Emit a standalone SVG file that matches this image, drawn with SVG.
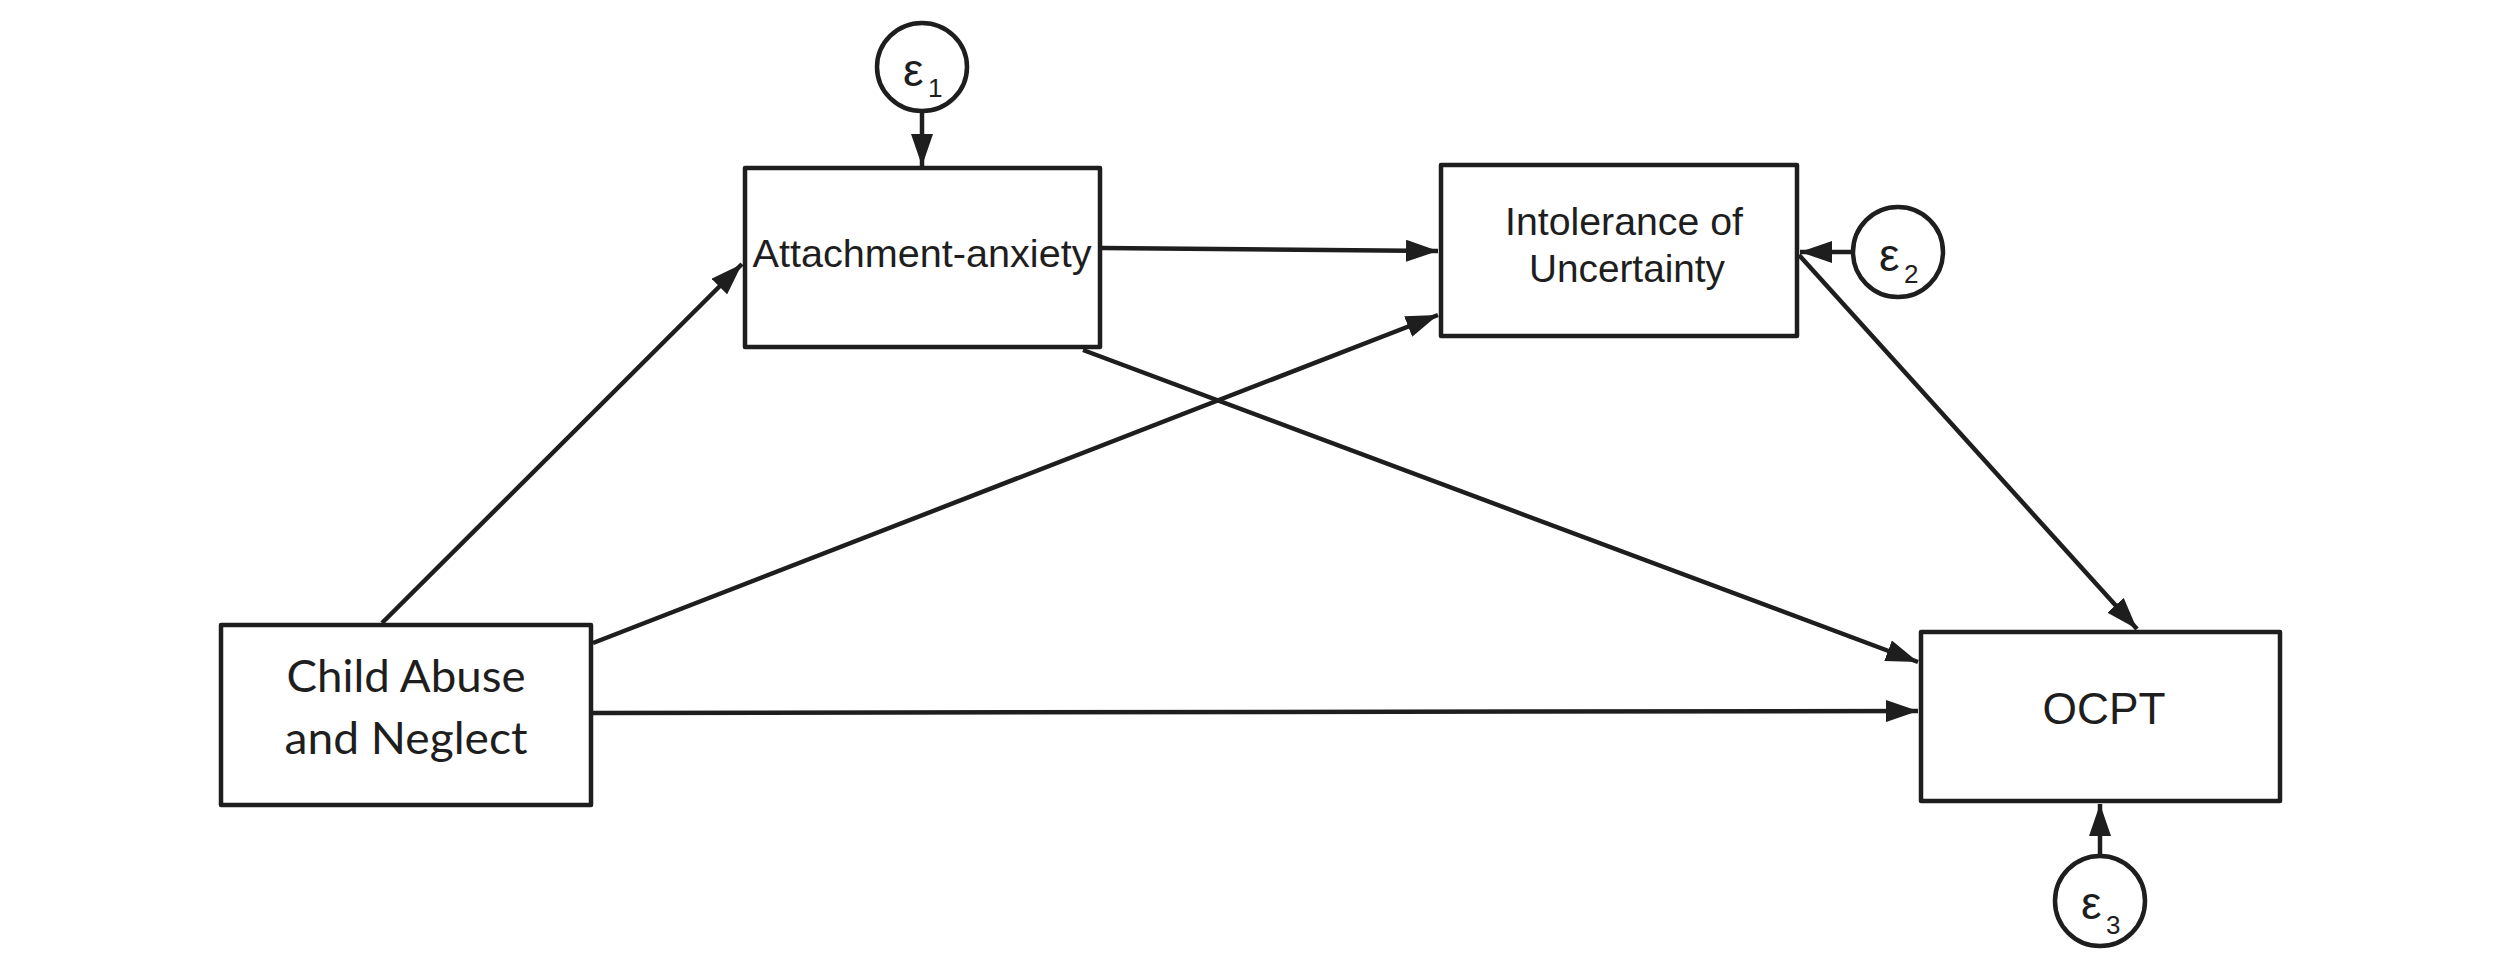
<svg xmlns="http://www.w3.org/2000/svg" width="2500" height="973" viewBox="0 0 2500 973">
<style>
.box{fill:#fff;stroke:#1e1e1e;stroke-width:4.5;stroke-linejoin:round}
.err{fill:#fff;stroke:#1e1e1e;stroke-width:4.5}
.lbl{font-family:"Liberation Sans",Arial,sans-serif;fill:#1e1e1e;text-anchor:middle}
.cal{font-family:Lato,"Open Sans",sans-serif;fill:#1e1e1e;text-anchor:middle}
.eps{font-family:"Liberation Sans",Arial,sans-serif;fill:#1e1e1e}
.edge{fill:none;stroke:#1e1e1e;stroke-width:4.5;marker-end:url(#arr)}
</style>
<defs>
<marker id="arr" markerUnits="userSpaceOnUse" markerWidth="32" markerHeight="22" viewBox="0 0 32 22" refX="32" refY="11" orient="auto">
<path d="M0,0 L32,11 L0,22 Z" fill="#1e1e1e"/>
</marker>
</defs>
<rect width="2500" height="973" fill="#fff"/>
<g id="connectors">
<line class="edge" x1="382" y1="623" x2="742" y2="264"/>
<line class="edge" x1="593" y1="643" x2="1438" y2="315"/>
<line class="edge" x1="593" y1="713" x2="1918" y2="711"/>
<line class="edge" x1="1102" y1="248" x2="1438" y2="251"/>
<line class="edge" x1="1083" y1="350" x2="1918" y2="662"/>
<line class="edge" x1="1799" y1="255" x2="2137" y2="629"/>
<line class="edge" x1="922" y1="112" x2="922" y2="166"/>
<line class="edge" x1="1852" y1="252" x2="1800" y2="252"/>
<line class="edge" x1="2100" y1="855" x2="2100" y2="804"/>
</g>
<g id="attachment">
<rect class="box" x="745" y="168" width="355" height="179"/>
<text class="lbl" x="922" y="267" font-size="39" textLength="339" lengthAdjust="spacingAndGlyphs">Attachment-anxiety</text>
</g>
<g id="intolerance">
<rect class="box" x="1441" y="165" width="356" height="171"/>
<text class="lbl" x="1624" y="235" font-size="39" textLength="238" lengthAdjust="spacingAndGlyphs">Intolerance of</text>
<text class="lbl" x="1627" y="282" font-size="39" textLength="196" lengthAdjust="spacingAndGlyphs">Uncertainty</text>
</g>
<g id="child">
<rect class="box" x="221" y="625" width="370" height="180"/>
<text class="cal" x="406" y="692" font-size="44" textLength="239" lengthAdjust="spacingAndGlyphs">Child Abuse</text>
<text class="cal" x="406" y="754" font-size="44" textLength="243" lengthAdjust="spacingAndGlyphs">and Neglect</text>
</g>
<g id="ocpt">
<rect class="box" x="1921" y="632" width="359" height="169"/>
<text class="lbl" x="2104" y="724" font-size="44" textLength="123" lengthAdjust="spacingAndGlyphs">OCPT</text>
</g>
<g id="e1">
<ellipse class="err" cx="922" cy="67" rx="45" ry="44"/>
<text class="eps" x="903" y="86" font-size="46">ε</text>
<text class="eps" x="928" y="97" font-size="26">1</text>
</g>
<g id="e2">
<circle class="err" cx="1898" cy="252" r="45"/>
<text class="eps" x="1879" y="271" font-size="46">ε</text>
<text class="eps" x="1904" y="283" font-size="26">2</text>
</g>
<g id="e3">
<circle class="err" cx="2100" cy="901" r="45"/>
<text class="eps" x="2081" y="919" font-size="46">ε</text>
<text class="eps" x="2106" y="934" font-size="26">3</text>
</g>
</svg>
